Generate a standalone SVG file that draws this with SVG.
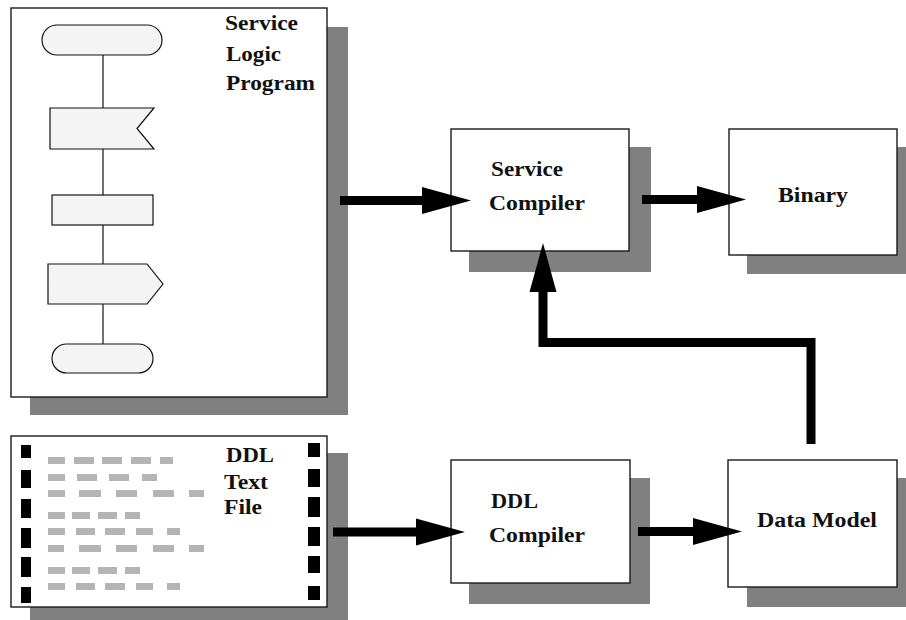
<svg xmlns="http://www.w3.org/2000/svg" width="906" height="620" viewBox="0 0 906 620">
  <style>
    .shadow { fill: #808080; }
    .box { fill: #ffffff; stroke: #1a1a1a; stroke-width: 1.4; }
    .fc { fill: #f4f4f4; stroke: #111111; stroke-width: 1.2; }
    .fcline { stroke: #111111; stroke-width: 1.2; fill: none; }
    .label { font-family: "Liberation Serif", "Times New Roman", serif; font-weight: bold; font-size: 20.5px; fill: #111111; }
    .dash { fill: #b4b4b4; }
    .hole { fill: #000000; }
    .conn { fill: none; stroke: #000000; stroke-width: 9; stroke-linejoin: miter; stroke-linecap: butt; }
  </style>
  <defs>
    <marker id="headH" markerUnits="userSpaceOnUse" markerWidth="49" markerHeight="28" refX="0" refY="13.5" orient="auto" overflow="visible">
      <path d="M0,0 L49,13.5 L0,27 Z" fill="#000000"/>
    </marker>
  </defs>

  <rect width="906" height="620" fill="#ffffff"/>

  <!-- Service Logic Program: flowchart sheet -->
  <g id="service-logic-program">
    <rect class="shadow" x="30" y="27" width="318" height="388"/>
    <rect class="box" x="11" y="8" width="316" height="389"/>
    <line class="fcline" x1="103" y1="55" x2="103" y2="344"/>
    <rect class="fc" x="42" y="25" width="120" height="30" rx="15" ry="15"/>
    <polygon class="fc" points="50,108 154,108 137,128.5 154,149 50,149"/>
    <rect class="fc" x="52" y="195" width="101" height="30"/>
    <polygon class="fc" points="48,264 147,264 163,284 147,304 48,304"/>
    <rect class="fc" x="52" y="344" width="101" height="29" rx="14.5" ry="14.5"/>
    <text class="label" x="225" y="30" textLength="73" lengthAdjust="spacingAndGlyphs">Service</text>
    <text class="label" x="226" y="61" textLength="55" lengthAdjust="spacingAndGlyphs">Logic</text>
    <text class="label" x="226" y="90" textLength="89" lengthAdjust="spacingAndGlyphs">Program</text>
  </g>

  <!-- DDL Text File: punched sheet with text lines -->
  <g id="ddl-text-file">
    <rect class="shadow" x="30" y="453" width="318" height="167"/>
    <rect class="box" x="11" y="436" width="316" height="171"/>
    <g class="hole">
      <rect x="21" y="445" width="10" height="13"/>
      <rect x="21" y="470" width="10" height="18"/>
      <rect x="21" y="499" width="10" height="19"/>
      <rect x="21" y="528" width="10" height="20"/>
      <rect x="21" y="557" width="10" height="20"/>
      <rect x="21" y="587" width="10" height="16"/>
      <rect x="308" y="443" width="12" height="14"/>
      <rect x="308" y="469" width="12" height="18"/>
      <rect x="308" y="497" width="12" height="20"/>
      <rect x="308" y="527" width="12" height="19"/>
      <rect x="308" y="556" width="12" height="17"/>
      <rect x="308" y="586" width="12" height="14"/>
    </g>
    <g class="dash">
      <rect x="48" y="457" width="17" height="7"/><rect x="74" y="457" width="20" height="7"/><rect x="102" y="457" width="20" height="7"/><rect x="131" y="457" width="20" height="7"/><rect x="160" y="457" width="13" height="7"/>
      <rect x="48" y="474" width="17" height="7"/><rect x="77" y="474" width="20" height="7"/><rect x="109" y="474" width="20" height="7"/><rect x="142" y="474" width="15" height="7"/>
      <rect x="48" y="490" width="17" height="7"/><rect x="79" y="490" width="22" height="7"/><rect x="116" y="490" width="21" height="7"/><rect x="153" y="490" width="21" height="7"/><rect x="189" y="490" width="15" height="7"/>
      <rect x="48" y="512" width="17" height="7"/><rect x="72" y="512" width="18" height="7"/><rect x="98" y="512" width="19" height="7"/><rect x="125" y="512" width="15" height="7"/>
      <rect x="48" y="528" width="17" height="7"/><rect x="76" y="528" width="19" height="7"/><rect x="105" y="528" width="20" height="7"/><rect x="136" y="528" width="17" height="7"/><rect x="167" y="528" width="13" height="7"/>
      <rect x="48" y="545" width="16" height="7"/><rect x="79" y="545" width="22" height="7"/><rect x="116" y="545" width="21" height="7"/><rect x="153" y="545" width="21" height="7"/><rect x="189" y="545" width="15" height="7"/>
      <rect x="48" y="567" width="17" height="7"/><rect x="72" y="567" width="18" height="7"/><rect x="98" y="567" width="19" height="7"/><rect x="125" y="567" width="15" height="7"/>
      <rect x="48" y="583" width="17" height="7"/><rect x="76" y="583" width="19" height="7"/><rect x="105" y="583" width="20" height="7"/><rect x="136" y="583" width="17" height="7"/><rect x="167" y="583" width="13" height="7"/>
    </g>
    <text class="label" x="226" y="462" textLength="48" lengthAdjust="spacingAndGlyphs">DDL</text>
    <text class="label" x="224" y="489" textLength="44" lengthAdjust="spacingAndGlyphs">Text</text>
    <text class="label" x="224" y="514" textLength="38" lengthAdjust="spacingAndGlyphs">File</text>
  </g>

  <!-- Service Compiler -->
  <g id="service-compiler">
    <rect class="shadow" x="469" y="147" width="182" height="125"/>
    <rect class="box" x="451" y="129" width="178" height="122"/>
    <text class="label" x="491" y="176" textLength="72" lengthAdjust="spacingAndGlyphs">Service</text>
    <text class="label" x="489" y="210" textLength="96" lengthAdjust="spacingAndGlyphs">Compiler</text>
  </g>

  <!-- Binary -->
  <g id="binary">
    <rect class="shadow" x="747" y="147" width="159" height="127"/>
    <rect class="box" x="729" y="129" width="168" height="126"/>
    <text class="label" x="778" y="202" textLength="70" lengthAdjust="spacingAndGlyphs">Binary</text>
  </g>

  <!-- DDL Compiler -->
  <g id="ddl-compiler">
    <rect class="shadow" x="469" y="478" width="181" height="126"/>
    <rect class="box" x="451" y="460" width="179" height="123"/>
    <text class="label" x="491" y="508" textLength="47" lengthAdjust="spacingAndGlyphs">DDL</text>
    <text class="label" x="489" y="542" textLength="96" lengthAdjust="spacingAndGlyphs">Compiler</text>
  </g>

  <!-- Data Model -->
  <g id="data-model">
    <rect class="shadow" x="747" y="478" width="159" height="129"/>
    <rect class="box" x="728" y="460" width="169" height="127"/>
    <text class="label" x="757" y="527" textLength="120" lengthAdjust="spacingAndGlyphs">Data Model</text>
  </g>

  <!-- Connectors -->
  <g id="connectors">
    <path class="conn" d="M340,200.5 H422" marker-end="url(#headH)"/>
    <path class="conn" d="M642,199.5 H697" marker-end="url(#headH)"/>
    <path class="conn" d="M333,532 H416" marker-end="url(#headH)"/>
    <path class="conn" d="M638,531.5 H693" marker-end="url(#headH)"/>
    <path class="conn" d="M811,444 V342.5 H543 V292" marker-end="url(#headH)"/>
  </g>
</svg>
